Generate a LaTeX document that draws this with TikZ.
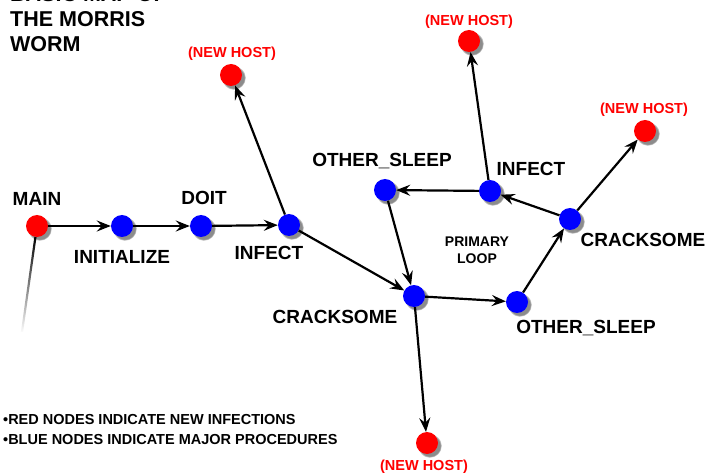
\documentclass[tikz,border=0pt]{standalone}
\usepackage{fontspec}
\setsansfont{Liberation Sans}
\usetikzlibrary{shadows, arrows.meta, fadings}

\tikzfading[name=tailfade, top color=transparent!0, bottom color=transparent!100]

\tikzset{
	proc/.style={circle, fill=blue, minimum size=22pt, inner sep=0pt,
		circular drop shadow={shadow xshift=2.5pt, shadow yshift=-2.5pt, fill=black, opacity=0.45}},
	host/.style={proc, fill=red},
	lbl/.style={anchor=base, inner sep=0pt, font=\sffamily\bfseries\fontsize{19}{21}\selectfont},
	hostlbl/.style={lbl, text=red, font=\sffamily\bfseries\fontsize{14.5}{16}\selectfont},
	link/.style={line width=2.2pt, -{Stealth[length=14pt, width=11pt, inset=5pt]}},
}

\begin{document}
\begin{tikzpicture}[x=1pt, y=-1pt, font=\sffamily\bfseries]
		\useasboundingbox (0,0) rectangle (707,473);
		
		% title and legend
		\node[anchor=base west, inner sep=0pt, align=left, font=\sffamily\bfseries\fontsize{21.5}{25}\selectfont] (title) at (10,52) {BASIC MAP OF\\THE MORRIS\\WORM};
		\node[anchor=base west, inner sep=0pt, align=left, font=\sffamily\bfseries\fontsize{14.5}{20}\selectfont] (legend) at (3,444) {\textbullet RED NODES INDICATE NEW INFECTIONS\\\textbullet BLUE NODES INDICATE MAJOR PROCEDURES};
		
		% procedures
		\node[host] (main) at (37,226) {};
		\node[proc] (init) at (122,226) {};
		\node[proc] (doit) at (201,226) {};
		\node[proc] (infect) at (289,225) {};
		\node[proc] (crack) at (414,296) {};
		\node[proc] (sleepb) at (517,302) {};
		\node[proc] (crackr) at (570,219) {};
		\node[proc] (infectr) at (490,191) {};
		\node[proc] (sleepl) at (385,190) {};
		
		% new hosts
		\node[host] (hosta) at (231,75) {};
		\node[host] (hostb) at (427,443) {};
		\node[host] (hostc) at (645,131) {};
		\node[host] (hostd) at (469,41) {};
		
		\node[lbl] (main-l) at (37,206) {MAIN};
		\node[lbl] (init-l) at (122,264) {INITIALIZE};
		\node[lbl] (doit-l) at (204,205) {DOIT};
		\node[lbl] (infect-l) at (269,260) {INFECT};
		\node[lbl] (crack-l) at (335,323) {CRACKSOME};
		\node[lbl] (sleepb-l) at (586,333) {OTHER\_SLEEP};
		\node[lbl] (crackr-l) at (643,247) {CRACKSOME};
		\node[lbl] (infectr-l) at (531,176) {INFECT};
		\node[lbl] (sleepl-l) at (382,167) {OTHER\_SLEEP};
		\node[anchor=base, inner sep=0pt, align=center, font=\sffamily\bfseries\fontsize{14}{17}\selectfont] (loop) at (477,263) {PRIMARY\\LOOP};
		
		\node[hostlbl] (hosta-l) at (232,58) {(NEW HOST)};
		\node[hostlbl] (hostb-l) at (424,470) {(NEW HOST)};
		\node[hostlbl] (hostc-l) at (644,114) {(NEW HOST)};
		\node[hostlbl] (hostd-l) at (469,26) {(NEW HOST)};
		
		% connectors
		\coordinate (tail) at (22,332);
		\draw[line width=2.2pt, path fading=tailfade] (main) -- (tail);
		\draw[link] (main) -- (init);
		\draw[link] (init) -- (doit);
		\draw[link] (doit) -- (infect);
		\draw[link] (infect) -- (hosta);
		\draw[link] (infect) -- (crack);
		\draw[link] (crack) -- (hostb);
		\draw[link] (crack) -- (sleepb);
		\draw[link] (sleepb) -- (crackr);
		\draw[link] (crackr) -- (hostc);
		\draw[link] (crackr) -- (infectr);
		\draw[link] (infectr) -- (hostd);
		\draw[link] (infectr) -- (sleepl);
		\draw[link] (sleepl) -- (crack);
	\end{tikzpicture}
\end{document}
